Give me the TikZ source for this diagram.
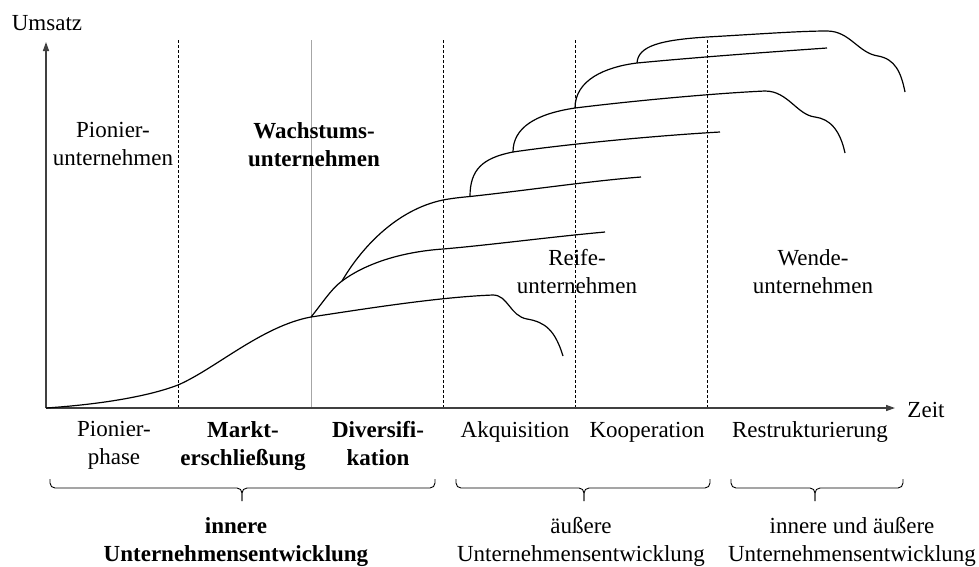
\documentclass[tikz,border=0pt]{standalone}
\usepackage{fontspec}
\setmainfont{Liberation Serif}
\usetikzlibrary{arrows.meta}
\begin{document}
\begin{tikzpicture}[x=1pt,y=-1pt,
  lbl/.style={font=\fontsize{23}{28}\selectfont, inner sep=0pt, align=center},
  lblb/.style={font=\fontsize{23}{28}\selectfont\bfseries, inner sep=0pt, align=center},
  curve/.style={line width=1.2pt, black},
  sep/.style={line width=0.8pt, black, dash pattern=on 3pt off 2pt},
  graysep/.style={line width=0.8pt, black!35},
  axis/.style={line width=1.4pt, black!75, -{Triangle[length=9pt,width=6pt]}},
  brace/.style={line width=0.9pt, black, rounded corners=5pt}
]
\useasboundingbox (0,0) rectangle (979,566);

% axes
\coordinate (O) at (46,408);
\coordinate (ytop) at (46,42);
\coordinate (xend) at (895,408);

% phase separators
\draw[sep] (178,40) -- (178,408);
\draw[graysep] (311,40) -- (311,408);
\draw[sep] (443,40) -- (443,408);
\draw[sep] (575,40) -- (575,408);
\draw[sep] (707,40) -- (707,408);

\draw[axis] (O) -- (ytop);
\draw[axis] (O) -- (xend);

% junctions
\coordinate (j1) at (311,317);
\coordinate (j2) at (342,281);
\coordinate (j3) at (470,196.5);
\coordinate (j4) at (513,152);
\coordinate (j5) at (575,108);
\coordinate (j6) at (637,63);

% curves
\draw[curve] (O) .. controls (120,403) and (160,392) .. (178,385)
  .. controls (215,369) and (262,326) .. (j1)
  .. controls (370,308) and (440,297) .. (493,295)
  .. controls (508,295) and (510,316) .. (527,319)
  .. controls (545,322) and (555,330) .. (563,356);
\draw[curve] (j1) .. controls (321,305) and (331,289) .. (j2)
  .. controls (365,264) and (400,252) .. (443,249)
  .. controls (490,245) and (550,237) .. (605,232);
\draw[curve] (j2) .. controls (360,250) and (395,210) .. (443,200)
  .. controls (452,198.3) and (461,197.3) .. (j3)
  .. controls (530,190) and (590,181) .. (641,177);
\draw[curve] (j3) .. controls (470,170) and (482,158) .. (j4)
  .. controls (560,145) and (650,136) .. (720,132);
\draw[curve] (j4) .. controls (513,128) and (535,114) .. (j5)
  .. controls (640,100) and (720,93) .. (765,91)
  .. controls (788,91) and (797,115) .. (815,117)
  .. controls (830,119) and (840,130) .. (845,153);
\draw[curve] (j5) .. controls (575,80) and (605,67) .. (j6)
  .. controls (700,57) and (770,52) .. (827,48);
\draw[curve] (j6) .. controls (638,46) and (660,40) .. (707,37)
  .. controls (760,34) and (800,31) .. (827,31)
  .. controls (850,31) and (858,53) .. (878,56)
  .. controls (895,59) and (901,72) .. (905,92);

% axis labels
\node[lbl, anchor=base] (umsatz) at (47,30) {Umsatz};
\node[lbl, anchor=base] (zeit) at (926,417) {Zeit};

% company types
\node[lbl, anchor=north] (pionier) at (113,122) {Pionier-\\unternehmen};
\node[lblb, anchor=north] (wachstum) at (314,122) {Wachstums-\\unternehmen};
\node[lbl, anchor=north] (reife) at (577,249) {Reife-\\unternehmen};
\node[lbl, anchor=north] (wende) at (813,249) {Wende-\\unternehmen};

% phases
\node[lbl, anchor=north] (pphase) at (114,421) {Pionier-\\phase};
\node[lblb, anchor=north] (markt) at (243,421) {Markt-\\erschließung};
\node[lblb, anchor=north] (divers) at (378,421) {Diversifi-\\kation};
\node[lbl, anchor=base] (akq) at (515,437) {Akquisition};
\node[lbl, anchor=base] (koop) at (647,437) {Kooperation};
\node[lbl, anchor=base] (restr) at (810,437) {Restrukturierung};

% braces
\coordinate (b1l) at (50,479); \coordinate (b1r) at (435,479); \coordinate (b1t) at (242,501);
\coordinate (b2l) at (456,479); \coordinate (b2r) at (710,479); \coordinate (b2t) at (584,501);
\coordinate (b3l) at (731,479); \coordinate (b3r) at (903,479); \coordinate (b3t) at (815,501);
\draw[brace] (b1l) |- (b1t |- 0,488) -- (b1t);
\draw[brace] (b1r) |- (b1t |- 0,488) -- (b1t);
\draw[brace] (b2l) |- (b2t |- 0,488) -- (b2t);
\draw[brace] (b2r) |- (b2t |- 0,488) -- (b2t);
\draw[brace] (b3l) |- (b3t |- 0,488) -- (b3t);
\draw[brace] (b3r) |- (b3t |- 0,488) -- (b3t);

% development types
\node[lblb, anchor=north] (inner) at (236,517) {innere\\Unternehmensentwicklung};
\node[lbl, anchor=north] (outer) at (581,517) {äußere\\Unternehmensentwicklung};
\node[lbl, anchor=north] (both) at (852,517) {innere und äußere\\Unternehmensentwicklung};
\end{tikzpicture}
\end{document}
